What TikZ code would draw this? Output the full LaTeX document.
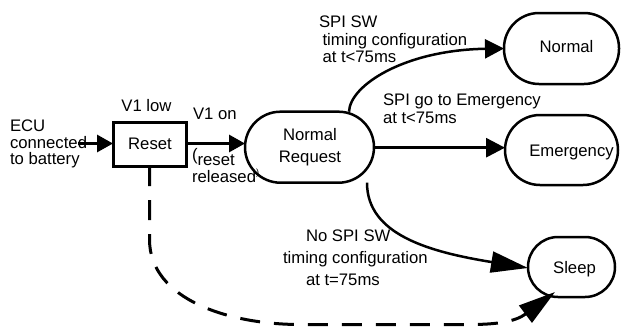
\documentclass[tikz,border=0pt]{standalone}
\usepackage{fontspec}
\setmainfont{Liberation Sans}
\usetikzlibrary{arrows.meta}
\begin{document}
\begin{tikzpicture}[x=1pt,y=-1pt,
  every node/.style={inner sep=0pt, outer sep=0pt},
  lbl/.style={font=\fontsize{16.7}{#1}\selectfont, align=left},
  lbl/.default=17.5,
  stnode/.style={draw, line width=2.5pt, rounded corners=#1},
  boxnode/.style={draw, line width=3pt},
  tipS/.style={-{Triangle[length=16pt,width=17pt]}},
  tipM/.style={-{Triangle[length=19pt,width=19pt]}},
  tipL/.style={-{Triangle[length=37pt,width=21pt]}},
  conn/.style={line width=3pt},
  curv/.style={line width=2.5pt},
  dashconn/.style={line width=3pt, dash pattern=on 20pt off 14pt},
]
\fill[white] (0,0) rectangle (621,327);
\useasboundingbox (0,0) rectangle (621,327);

% states
\node[boxnode, minimum width=73pt, minimum height=44pt] (reset) at (149.5,144) {};
\node[lbl, anchor=base] (resettxt) at (150,149.3) {Reset};

\node[stnode=35.5pt, minimum width=129pt, minimum height=71pt] (nreq) at (309.5,147.2) {};
\node[lbl=22, align=center, anchor=north] (nreqtxt) at (310,128.5) {Normal\\Request};

\node[stnode=35pt, minimum width=115pt, minimum height=71pt] (normal) at (561.5,48.5) {};
\node[lbl, anchor=base] (normaltxt) at (566.5,52) {Normal};

\node[stnode=35pt, minimum width=113pt, minimum height=70pt] (emerg) at (561.5,150) {};
\node[lbl, anchor=base] (emergtxt) at (571.5,156) {Emergency};

\node[stnode=30pt, minimum width=87pt, minimum height=60pt] (sleep) at (571.5,267) {};
\node[lbl, anchor=base] (sleeptxt) at (574.5,273) {Sleep};

% labels
\node[lbl=16.5, anchor=north west] (ecu) at (10,120) {ECU\\connected\\to battery};
\node[lbl, anchor=north] (v1low) at (146.5,99.5) {V1 low};
\node[lbl, anchor=north west] (v1on) at (193,108) {V1 on};
\node[lbl=22.5, anchor=north west] (rel) at (192,148) {(\raisebox{-5.5pt}{reset}\\released\raisebox{7pt}{\fontsize{9}{9}\selectfont )}};

\node[lbl, anchor=north west] (spisw) at (319,16) {SPI SW\\\hspace*{3.5pt}timing configuration\\\hspace*{3.5pt}at t<75ms};
\node[lbl=18, anchor=north west] (spigo) at (383,94) {SPI go to Emergency\\at t<75ms};
\node[lbl=22, anchor=north west] (nospi) at (283,230) {\hspace*{23pt}No SPI SW\\timing configuration\\\hspace*{23pt}at t=75ms};

% connectors
\coordinate (ecuin) at (78,143.5);
\draw[conn, tipS] (ecuin) -- (ecuin -| reset.west);
\draw[conn, tipS] ([yshift=0.5pt]reset.east) -- ([yshift=0.5pt]reset.east -| nreq.west);
\draw[conn, tipM] ([yshift=-0.5pt]nreq.east) -- ([yshift=-0.5pt]nreq.east -| emerg.west);
\draw[curv, tipM] ([xshift=-25pt]nreq.north east) .. controls (350,85) and (405,50) .. (normal.west);
\draw[curv, tipL] ([xshift=-7pt]nreq.south east) .. controls (367,235) and (430,252) .. ([yshift=-1pt]sleep.west);
\coordinate (sleepin) at ([xshift=-16.5pt,yshift=5pt]sleep.south);
\draw[dashconn, tipL] (reset.south) -- (149.5,240) .. controls (150,300) and (230,324.5) .. (300,324.5) -- (470,324.5) .. controls (495,324.5) and (515,322) .. (sleepin);
\end{tikzpicture}
\end{document}
